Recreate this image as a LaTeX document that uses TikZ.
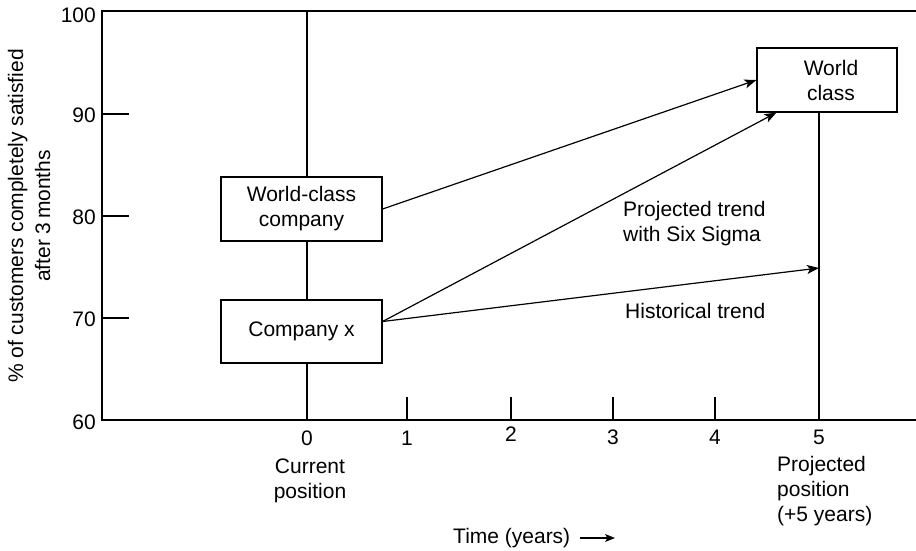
\documentclass[tikz,border=0pt]{standalone}
\usepackage{fontspec}
\setmainfont{Liberation Sans}
\usetikzlibrary{arrows.meta}
\begin{document}
\begin{tikzpicture}[x=1pt,y=-1pt,
  every node/.style={font=\fontsize{21}{25}\selectfont, inner sep=0pt},
  thinline/.style={line width=1.2pt},
  axisline/.style={line width=1.8pt},
  box/.style={draw, line width=1.2pt, fill=white, align=center},
  trend/.style={line width=1.2pt, -{Stealth[length=12pt,width=9pt,inset=3pt]}},
  lbl/.style={align=center}]
\useasboundingbox (0,0) rectangle (916,550);

% frame and axes
\coordinate (tl) at (102,11);
\coordinate (tr) at (916,11);
\coordinate (bl) at (102,420);
\coordinate (br) at (916,420);
\draw[axisline, line cap=rect] (tr) -- (tl) -- (bl) -- (br);

% y ticks and labels
\foreach \v/\y in {90/114,80/216,70/318} {
  \draw[thinline] (102,\y) -- (129,\y);
}
\foreach \v/\y in {100/15,90/115,80/217,70/319,60/422} {
  \node[anchor=east] (y\v) at (96,\y) {\v};
}

% x ticks and labels
\foreach \i/\x in {1/407,2/511,3/613,4/715} {
  \draw[thinline] (\x,420) -- (\x,397);
}
\foreach \i/\x/\y in {0/307/438,1/407/438,2/511/434,3/613/437,4/715/437,5/819/437} {
  \node (x\i) at (\x,\y) {\i};
}

% current position line
\coordinate (c0top) at (307,11);
\coordinate (c0bot) at (307,420);
\draw[thinline] (c0top) -- (c0bot);

% boxes
\node[box, minimum width=161pt, minimum height=64pt] (wcc) at (301.5,209) {World-class\\company};
\node[box, minimum width=161pt, minimum height=63pt] (cx) at (301.5,331.5) {Company x};
\node[box, minimum width=140pt, minimum height=64pt] (wc) at (827,80) {\hspace*{8pt}World\\\hspace*{8pt}class};

% projected position line
\coordinate (c5top) at (819,112);
\coordinate (c5bot) at (819,420);
\draw[thinline] (c5top) -- (c5bot);
\coordinate (h5) at (819,268);

% trend arrows
\draw[trend] (wcc.east) -- (wc.west);
\draw[trend] ([yshift=10pt]cx.east) -- ([xshift=20pt]wc.south west);
\draw[trend] ([yshift=10pt]cx.east) -- (h5);

% trend labels
\node[align=left, anchor=west] (six) at (623,224) {Projected trend\\with Six Sigma};
\node[anchor=west] (hist) at (625,311) {Historical trend};

% position labels
\node[lbl] (cur) at (310,481) {Current\\position};
\node[align=left, anchor=west] (proj) at (777,491) {Projected\\position\\(+5 years)};

% axis titles
\node[anchor=west] (time) at (453,538) {Time (years)};
\coordinate (tarr) at (615,538);
\draw[line width=1.2pt, -{Stealth[length=10pt,width=8pt,inset=2.5pt]}] ([xshift=10pt]time.east) -- (tarr);
\node[rotate=90, align=center, font=\fontsize{21}{27}\selectfont] (ylab) at (29,216)
  {\% of customers completely satisfied\\after 3\,months};
\end{tikzpicture}
\end{document}
